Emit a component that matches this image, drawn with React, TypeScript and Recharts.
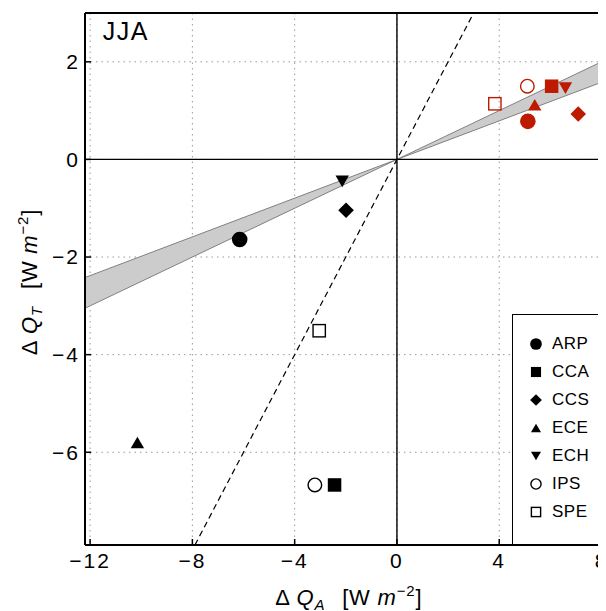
import React from 'react';
import { ComposedChart, XAxis, YAxis, CartesianGrid, Area, Scatter, ReferenceLine, Legend } from 'recharts';

const FONT = '"Liberation Sans", Arial, Helvetica, sans-serif';
const RED = '#be1a00';

// models and their marker kinds
const models = ['ARP', 'CCA', 'CCS', 'ECE', 'ECH', 'IPS', 'SPE'];
const markerKinds = ['circle', 'square', 'diamond', 'triangle', 'triangleDown', 'circleOpen', 'squareOpen'];

// black points
const blackQA = [-6.15, -2.44, -1.99, -10.15, -2.14, -3.21, -3.04];
const blackQT = [-1.64, -6.67, -1.04, -5.8, -0.45, -6.67, -3.51];
// red points
const redQA = [5.12, 6.05, 7.09, 5.39, 6.59, 5.1, 3.83];
const redQT = [0.78, 1.5, 0.93, 1.12, 1.46, 1.5, 1.14];

// grey wedge
const bandQA = [-12.2, 0, 8.2];
const bandLow = [-3.05, 0, 1.62];
const bandHigh = [-2.42, 0, 2.05];

// 1:1 dashed line ends
const oneToOne = [-7.9, 3];

const xTicks = [-12, -8, -4, 0, 4, 8];
const yTicks = [-6, -4, -2, 0, 2];

const bandData = bandQA.map((q, i) => ({ qa: q, band: [bandLow[i], bandHigh[i]] }));

const fmt = (v: number) => (v < 0 ? '\u2212' + Math.abs(v) : String(v));

function Marker({ kind, cx, cy, color, k = 1 }: any) {
  if (kind === 'circle') return <circle cx={cx} cy={cy} r={7.8 * k} fill={color} />;
  if (kind === 'circleOpen') return <circle cx={cx} cy={cy} r={6.8 * k} fill="none" stroke={color} strokeWidth={1.4} />;
  if (kind === 'square') {
    const s = 13.5 * k;
    return <rect x={cx - s / 2} y={cy - s / 2} width={s} height={s} fill={color} />;
  }
  if (kind === 'squareOpen') {
    const s = 12.3 * k;
    return <rect x={cx - s / 2} y={cy - s / 2} width={s} height={s} fill="none" stroke={color} strokeWidth={1.4} />;
  }
  if (kind === 'diamond') {
    const d = 7.8 * k;
    return <polygon points={`${cx},${cy - d} ${cx + d},${cy} ${cx},${cy + d} ${cx - d},${cy}`} fill={color} />;
  }
  const w = 13.4 * k, h = 11.6 * k;
  if (kind === 'triangle')
    return <polygon points={`${cx},${cy - h / 2} ${cx + w / 2},${cy + h / 2} ${cx - w / 2},${cy + h / 2}`} fill={color} />;
  return <polygon points={`${cx},${cy + h / 2} ${cx + w / 2},${cy - h / 2} ${cx - w / 2},${cy - h / 2}`} fill={color} />;
}

function LegendBox() {
  return (
    <div style={{ width: 120, height: 231, boxSizing: 'border-box', border: '1.5px solid #000', background: '#fff', paddingTop: 15 }}>
      {models.map((m, i) => (
        <div key={m} style={{ height: 28, display: 'flex', alignItems: 'center', fontFamily: FONT, fontSize: 17, letterSpacing: 0.5, color: '#000' }}>
          <svg width={38} height={28} style={{ display: 'block' }}>
            <Marker kind={markerKinds[i]} cx={23} cy={14} color="#000" k={0.75} />
          </svg>
          <span style={{ marginLeft: 1 }}>{m}</span>
        </div>
      ))}
    </div>
  );
}

function Title({ x, y, sub, rotate }: any) {
  return (
    <text
      x={x}
      y={y}
      transform={rotate ? `rotate(-90, ${x}, ${y})` : undefined}
      textAnchor="middle"
      fontFamily={FONT}
      fontSize={22}
      letterSpacing={0.8}
      fill="#000"
    >
      <tspan>Δ </tspan>
      <tspan fontStyle="italic">Q</tspan>
      <tspan fontSize={15} fontStyle="italic" dy={5}>{sub}</tspan>
      <tspan dy={-5} dx={17}>[W </tspan>
      <tspan fontStyle="italic">m</tspan>
      <tspan fontSize={15} dy={-9}>−2</tspan>
      <tspan dy={9}>]</tspan>
    </text>
  );
}

const XTitle = (props: any) => {
  const vb = props.viewBox;
  return <Title x={vb.x + vb.width / 2 + 3} y={vb.y + 60} sub="A" />;
};

const YTitle = (props: any) => {
  const vb = props.viewBox;
  return <Title x={vb.x + 28.5} y={vb.y + vb.height / 2 + 3} sub="T" rotate />;
};

export default function App() {
  const tickStyle = { fill: '#000', fontSize: 21, fontFamily: FONT, letterSpacing: 2 };
  return (
    <div style={{ position: 'relative', width: 598, height: 603, overflow: 'hidden' }}>
      <ComposedChart width={620} height={603} data={bandData} margin={{ top: 5, right: 21.4, bottom: 6, left: 0 }}>
        <CartesianGrid stroke="#999" strokeDasharray="1.5 4" />
        <XAxis
          type="number"
          dataKey="qa"
          domain={[-12.2, 8.2]}
          ticks={xTicks}
          interval={0}
          allowDataOverflow
          tickFormatter={fmt}
          tick={tickStyle}
          tickSize={-6}
          tickMargin={14}
          height={60}
          axisLine={{ stroke: '#000', strokeWidth: 2 }}
          tickLine={{ stroke: '#000', strokeWidth: 1.5 }}
          label={{ content: XTitle }}
        />
        <YAxis
          type="number"
          domain={[-7.9, 3]}
          ticks={yTicks}
          interval={0}
          allowDataOverflow
          tickFormatter={fmt}
          tick={tickStyle}
          tickSize={-6}
          tickMargin={11}
          width={77}
          axisLine={{ stroke: '#000', strokeWidth: 2 }}
          tickLine={{ stroke: '#000', strokeWidth: 1.5 }}
          label={{ content: YTitle }}
        />
        <Area dataKey="band" type="linear" fill="#cccccc" fillOpacity={1} stroke="#808080" strokeWidth={1} isAnimationActive={false} dot={false} activeDot={false} />
        <ReferenceLine x={0} stroke="#000" strokeWidth={1.4} />
        <ReferenceLine y={0} stroke="#000" strokeWidth={1.4} />
        <ReferenceLine
          segment={[{ x: oneToOne[0], y: oneToOne[0] }, { x: oneToOne[1], y: oneToOne[1] }]}
          stroke="#000"
          strokeWidth={1.2}
          strokeDasharray="6 4"
        />
        <ReferenceLine y={3} stroke="#000" strokeWidth={2} />
        <ReferenceLine x={8.2} stroke="#000" strokeWidth={2} />
        {models.map((m, i) => (
          <Scatter
            key={m}
            name={m}
            dataKey="qt"
            data={[
              { qa: blackQA[i], qt: blackQT[i], color: '#000' },
              { qa: redQA[i], qt: redQT[i], color: RED },
            ]}
            isAnimationActive={false}
            shape={(p: any) => <Marker kind={markerKinds[i]} cx={p.cx} cy={p.cy} color={p.payload.color} />}
          />
        ))}
        <text x={94.7} y={32} fontFamily={FONT} fontSize={25} letterSpacing={1.5} fill="#000">JJA</text>
        <Legend
          layout="vertical"
          align="center"
          verticalAlign="middle"
          content={() => <LegendBox />}
          wrapperStyle={{ position: 'absolute', left: 504, top: 306, width: 120, height: 231 }}
        />
      </ComposedChart>
    </div>
  );
}
